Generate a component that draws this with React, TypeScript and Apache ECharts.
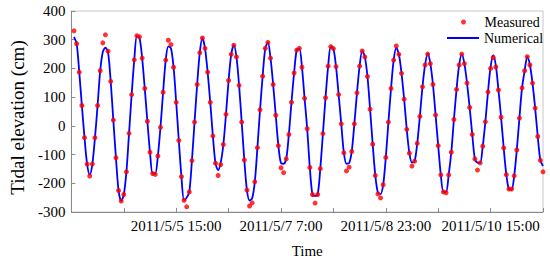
import React, { useEffect, useRef } from 'react';
import * as echarts from 'echarts';

// Hours are counted from 2011/5/3 23:00; first sample (hour 1) is 2011/5/4 0:00, hourly.
const startHour = 1;

const measured = [
  331, 286, 187, 71, -41, -133, -175, -133, -41, 71,
  192, 289, 317, 260, 155, 20, -111, -225, -262, -239,
  -160, -26, 109, 230, 314, 310, 236, 130, 16, -92,
  -166, -169, -105, -5, 117, 229, 298, 283, 204, 82,
  -51, -177, -259, -282, -230, -121, 13, 144, 255, 306,
  270, 187, 82, -35, -130, -173, -135, -65, 40, 158,
  249, 281, 240, 141, 13, -119, -224, -279, -268, -195,
  -76, 56, 173, 270, 291, 236, 144, 37, -69, -146,
  -163, -115, -30, 82, 184, 264, 270, 204, 96, -10,
  -145, -239, -269, -239, -149, -27, 98, 208, 276, 269,
  206, 109, 7, -94, -157, -144, -89, 7, 115, 208,
  261, 240, 172, 58, -64, -173, -237, -251, -205, -110,
  13, 130, 229, 278, 249, 183, 93, -12, -95, -140,
  -123, -61, 33, 136, 212, 250, 217, 144, 38, -69,
  -171, -230, -233, -171, -92, 22, 127, 212, 250, 217,
  149, 64, -30, -115, -154, -129, -71, 14, 118, 200,
  238, 205, 125, 30, -77, -170, -220, -220, -174, -84,
  27, 132, 192, 241, 212, 149, 62, -37, -120, -160,
];

const numerical = [
  310, 286, 187, 71, -41, -133, -171, -133, -41, 71,
  192, 258, 272, 255, 155, 20, -111, -225, -262, -239,
  -160, -26, 109, 230, 312, 306, 236, 130, 16, -92,
  -166, -166, -105, -5, 117, 229, 277, 270, 204, 82,
  -51, -177, -259, -250, -230, -121, 13, 144, 255, 306,
  270, 187, 82, -35, -130, -154, -128, -65, 40, 158,
  249, 281, 240, 141, 13, -119, -224, -260, -252, -195,
  -76, 56, 173, 270, 291, 236, 144, 37, -69, -130,
  -132, -115, -30, 82, 184, 264, 270, 204, 96, -10,
  -145, -239, -244, -239, -149, -27, 98, 208, 276, 269,
  206, 109, 7, -94, -132, -130, -89, 7, 115, 208,
  261, 240, 172, 58, -64, -173, -233, -238, -205, -110,
  13, 130, 229, 272, 249, 183, 93, -12, -95, -128,
  -123, -61, 33, 136, 212, 252, 217, 144, 38, -69,
  -171, -230, -230, -171, -92, 22, 127, 212, 250, 217,
  149, 64, -30, -115, -128, -129, -71, 14, 118, 205,
  246, 210, 125, 30, -77, -170, -220, -222, -174, -84,
  27, 132, 192, 241, 212, 149, 62, -37, -120, -140,
];

const xTickHours = [40, 80, 120, 160];
const xTickLabels = ['2011/5/5 15:00', '2011/5/7 7:00', '2011/5/8 23:00', '2011/5/10 15:00'];
const xMin = 0;
const xMax = 180;
const xStep = 20;
const yMin = -300;
const yMax = 400;
const yStep = 100;

const FONT = "'Liberation Serif', 'Times New Roman', serif";

export default function App() {
  const ref = useRef<HTMLDivElement>(null);
  useEffect(() => {
    if (!ref.current) return;
    const chart = echarts.init(ref.current, undefined, { renderer: 'svg' });
    const axisGray = '#8a8a8a';
    chart.setOption({
      animation: false,
      backgroundColor: '#ffffff',
      grid: {
        left: 65, right: 7, top: 11, bottom: 47,
        show: true, borderColor: '#c8c8c8', borderWidth: 1,
      },
      legend: [
        {
          left: 461, top: 15, padding: 0,
          itemWidth: 32, itemHeight: 5,
          data: [{ name: 'Measured', icon: 'circle' }],
          textStyle: { fontFamily: FONT, fontSize: 14, color: '#000' },
        },
        {
          left: 447, top: 31, padding: 0,
          itemWidth: 32, itemHeight: 2,
          data: [{ name: 'Numerical', icon: 'rect' }],
          textStyle: { fontFamily: FONT, fontSize: 14, color: '#000' },
        },
      ],
      xAxis: {
        type: 'value', min: xMin, max: xMax, interval: xStep,
        name: 'Time', nameLocation: 'middle', nameGap: 31,
        nameTextStyle: { fontFamily: FONT, fontSize: 15, color: '#000' },
        axisLine: { onZero: false, lineStyle: { color: axisGray } },
        axisTick: { inside: true, length: 4, lineStyle: { color: axisGray } },
        axisLabel: {
          formatter: (v: number) => {
            const i = xTickHours.indexOf(v);
            return i >= 0 ? xTickLabels[i] : '';
          },
          fontFamily: FONT, fontSize: 15, color: '#000', margin: 6,
        },
        splitLine: { show: false },
      },
      yAxis: {
        type: 'value', min: yMin, max: yMax, interval: yStep,
        name: 'Tidal elevation (cm)', nameLocation: 'middle', nameGap: 42,
        nameTextStyle: { fontFamily: FONT, fontSize: 19, color: '#000', padding: [0, 12, 0, 0] },
        axisLine: { show: true, onZero: false, lineStyle: { color: axisGray } },
        axisTick: { show: true, inside: true, length: 4, lineStyle: { color: axisGray } },
        axisLabel: { fontFamily: FONT, fontSize: 15, color: '#000', margin: 6 },
        splitLine: { show: false },
      },
      series: [
        {
          name: 'Numerical', type: 'line',
          data: numerical.map((v, i) => [startHour + i, v]),
          symbol: 'none', showSymbol: false, smooth: 0.3,
          lineStyle: { color: '#0000ff', width: 1.8 },
          itemStyle: { color: '#0000ff' },
          z: 2,
        },
        {
          name: 'Measured', type: 'scatter',
          data: measured.map((v, i) => [startHour + i, v]),
          symbol: 'circle', symbolSize: 5,
          itemStyle: { color: '#ff0000' },
          z: 3,
        },
      ],
    });
    return () => chart.dispose();
  }, []);
  return (
    <div
      ref={ref}
      style={{ position: 'fixed', left: 0, top: 0, width: 550, height: 263, background: '#fff' }}
    />
  );
}
